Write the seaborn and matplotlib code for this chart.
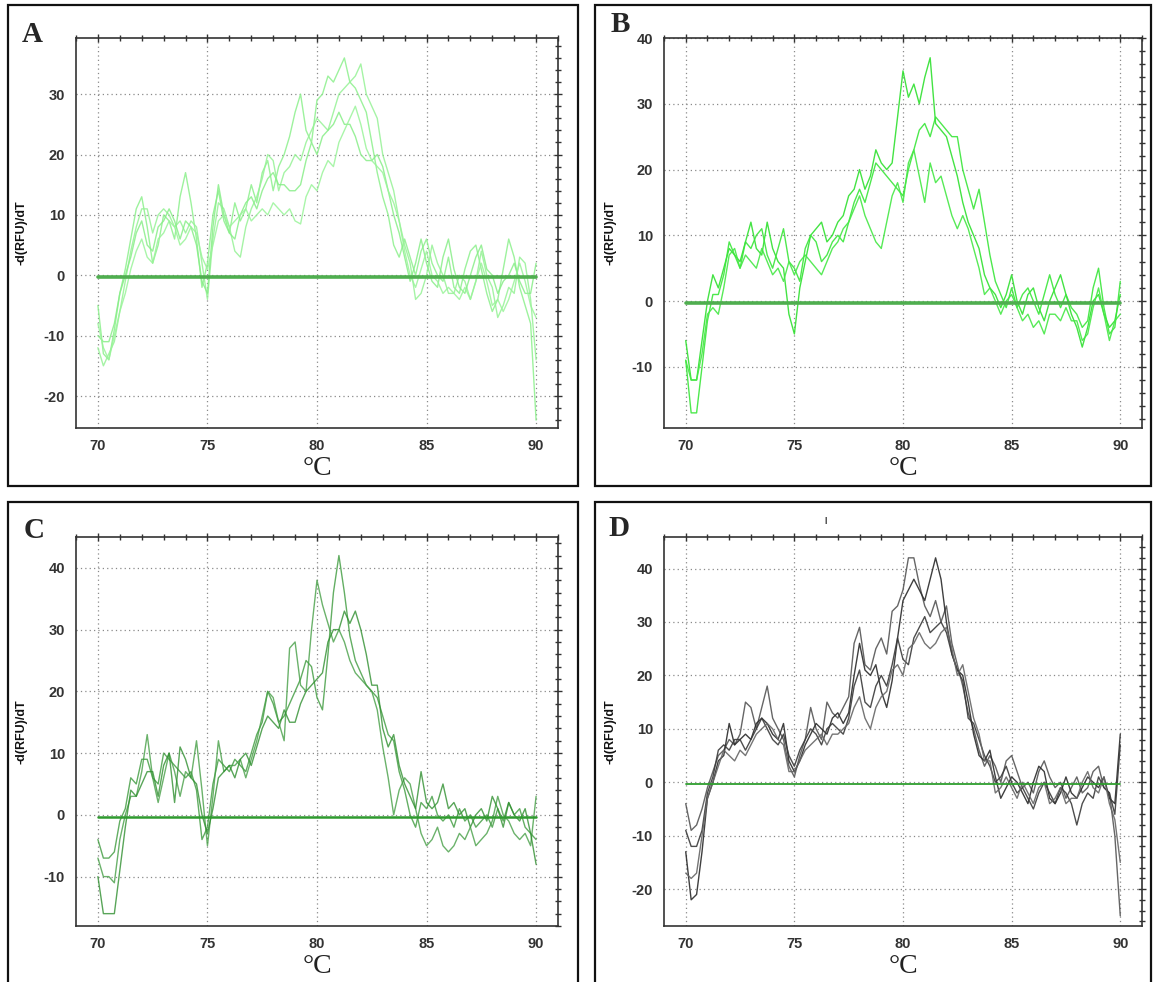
import numpy as np
import pandas as pd
import matplotlib
matplotlib.use("Agg")
import matplotlib.pyplot as plt
import seaborn as sns
from matplotlib.ticker import MultipleLocator
from matplotlib.patches import Rectangle

# temperature sampling grid (°C), 0.25 °C steps from 70 to 90
temps = list(np.linspace(70, 90, 81))
threshold_x = [70, 90]
threshold_y = [-0.3, -0.3]

# ---- Panel A (4 curves) ----
A1 = [-5,-13,-14,-9,-3,1,6,11,13,
      8,2,5,10,9,6,13,17,12,
      6,-2,2,10,14,9,7,12,9,
      11,15,12,17,19,14,18,20,23,
      27,30,24,22,29,30,33,32,34,
      36,32,31,29,27,22,17,13,10,
      5,3,6,3,0,4,6,2,0,
      -1,3,-2,-3,1,4,5,1,-3,
      -6,-4,1,6,3,-2,-5,-8,-24]
A2 = [-12,-15,-13,-11,-6,-1,4,8,11,
      11,7,10,11,10,8,9,7,9,
      8,2,-4,6,12,11,8,4,3,
      8,11,13,16,20,19,14,17,18,
      20,19,22,24,26,25,24,27,30,
      31,32,33,35,30,28,26,20,17,
      14,9,5,2,-4,-3,0,5,2,
      0,-3,-3,0,-1,-4,-1,4,0,
      -2,-7,-5,-2,-3,3,2,-4,-14]
A3 = [-10,-11,-11,-8,-3,0,3,7,9,
      5,4,8,9,11,9,6,9,8,
      5,-1,-3,8,15,10,7,6,10,
      12,13,11,14,16,17,15,15,14,
      14,15,19,22,20,23,24,25,27,
      25,25,23,20,19,19,20,18,14,
      10,7,3,-1,2,6,2,-1,-2,
      3,6,1,-2,-3,0,3,5,1,
      0,-3,-1,0,2,-1,-3,-3,2]
A4 = [-8,-12,-14,-10,-6,-3,1,4,6,
      3,2,6,7,9,8,5,6,8,
      7,3,1,5,9,10,8,9,10,
      11,9,10,11,10,12,11,10,11,
      9,8.5,13,15,14,17,19,18,22,
      24,26,28,25,21,19,18,17,14,
      12,9,4,0,-2,1,4,0,-1,
      -3,-2,-3,-4,-2,-4,-1,2,-1,
      -5,-4,-6,-4,-1,2,-1,-5,-7]

# ---- Panel B (3 curves) ----
B1 = [-6,-12,-12,-6,0,4,2,5,8,
      7,6,9,12,8,7,12,8,6,
      5,-2,-5,2,6,10,11,12,9,
      10,12,13,16,17,20,17,19,23,
      21,20,21,28,35,31,33,30,34,
      37,27,26,25,22,19,15,12,10,
      8,4,2,1,-1,1,4,0,-2,
      1,2,-1,-3,0,2,4,1,-2,
      -4,-7,-4,0,1,-2,-4,-3,1]
B2 = [-9,-17,-17,-10,-3,1,1,4,9,
      7,5,9,8,10,11,7,5,8,
      11,6,5,3,8,10,9,6,7,
      9,10,9,12,15,17,15,18,21,
      20,19,18,17,16,20,23,26,27,
      25,28,27,26,25,25,20,17,14,
      17,12,7,3,1,-1,2,-1,1,
      2,0,-2,1,4,1,-1,1,-1,
      -2,-4,-3,2,5,-1,-5,-4,3]
B3 = [-9,-12,-12,-8,-2,-1,-2,2,7,
      8,5,7,6,5,8,6,4,5,
      3,6,4,6,7,6,5,4,6,
      8,9,11,12,14,16,13,11,9,
      8,12,16,18,15,21,23,19,15,
      21,18,19,16,13,11,13,11,8,
      5,1,2,0,-2,0,1,-1,-3,
      -2,-4,-3,-5,-2,-2,-3,-1,-3,
      -3,-6,-5,-1,2,-2,-6,-3,-2]

# ---- Panel C (3 curves) ----
C1 = [-4,-7,-7,-6,-1,1,6,5,9,
      9,6,5,10,9,8,7,6,7,
      4,-4,-2,5,9,8,7,9,8,
      7,10,13,15,20,18,15,16,18,
      20,22,25,24,19,17,26,36,42,
      36,29,25,23,21,20,19,16,13,
      12,7,4,0,-2,2,1,3,0,
      -1,0,-2,1,-1,0,-2,-1,0,
      -2,1,-1,2,0,1,-2,-3,-4]
C2 = [-7,-10,-10,-11,-4,0,3,3,7,
      13,6,2,6,10,7,3,7,6,
      12,4,-5,3,12,7,8,8,9,
      6,9,12,16,20,19,15,12,27,
      28,21,20,30,38,34,31,28,30,
      28,25,23,22,21,20,17,11,6,
      0,4,6,5,1,-3,-5,-4,-2,
      -5,-6,-5,-3,-4,-2,-5,-4,-3,
      -1,3,0,-1,-3,-4,-3,-5,3]
C3 = [-10,-16,-16,-16,-9,-2,4,3,5,
      7,7,3,8,10,2,11,9,6,
      5,0,-3,1,6,7,8,6,9,
      10,8,11,14,16,15,14,17,15,
      15,18,20,21,22,23,28,30,30,
      33,31,33,30,26,21,21,14,11,
      13,8,5,3,1,7,2,1,2,
      5,1,2,0,1,-2,0,1,-1,
      3,1,-2,2,0,-1,1,-3,-8]

# ---- Panel D (4 curves) ----
D1 = [-4,-9,-8,-5,-1,2,5,6,8,
      7,9,15,14,10,14,18,12,10,
      8,3,1,5,8,14,10,8,15,
      13,12,14,16,26,29,22,21,25,
      27,24,32,33,36,42,42,37,33,
      31,34,30,33,26,22,18,13,10,
      6,3,5,3,0,4,5,2,-1,
      0,-2,2,4,1,-1,0,-3,-1,
      1,-2,-1,2,3,-1,-2,-10,-25]
D2 = [-13,-22,-21,-13,-3,0,4,5,11,
      7,8,9,8,11,12,11,9,8,
      11,4,2,4,7,9,11,10,9,
      12,13,11,13,20,26,21,20,22,
      17,14,19,27,34,36,38,36,34,
      38,42,38,30,24,21,20,15,9,
      5,4,6,1,-3,-1,1,0,-2,
      -4,0,3,2,-3,-4,-2,1,-2,
      -3,-1,1,0,-1,1,-3,-4,9]
D3 = [-9,-12,-12,-9,-2,1,6,7,6,
      8,8,6,8,10,12,10,8,7,
      9,5,3,6,8,10,9,7,10,
      11,10,9,12,18,21,15,14,18,
      20,18,22,27,23,22,27,29,31,
      28,29,30,28,24,21,19,12,11,
      8,5,3,0,1,3,0,-2,-1,
      -3,-5,-2,0,-2,-4,-1,-2,-4,
      -8,-4,-2,-3,1,-1,-2,-6,7]
D4 = [-17,-18,-17,-10,-3,0,3,6,5,
      4,6,5,7,9,10,11,10,8,
      7,2,2,4,6,7,8,9,7,
      9,9,10,11,14,16,12,10,14,
      16,17,21,22,20,25,26,28,26,
      25,26,28,29,25,20,22,17,12,
      9,4,4,-2,-1,1,-1,-3,0,
      -2,-4,-1,0,-4,-3,-1,-4,-3,
      -3,0,2,-1,-2,1,-4,-7,-15]

y_ticks_A = [-20, -10, 0, 10, 20, 30]
y_ticks_B = [-10, 0, 10, 20, 30, 40]
y_ticks_C = [-10, 0, 10, 20, 30, 40]
y_ticks_D = [-20, -10, 0, 10, 20, 30, 40]
x_ticks = [70, 75, 80, 85, 90]

sns.set_style("white")
plt.rcParams["font.family"] = ["Liberation Sans", "DejaVu Sans"]
plt.rcParams["axes.unicode_minus"] = False

W, H = 1157, 982
fig = plt.figure(figsize=(W / 100, H / 100), dpi=100)


def px_rect(x0, y0, x1, y1):
    return [x0 / W, 1 - y1 / H, (x1 - x0) / W, (y1 - y0) / H]


panels = [
    dict(name="A", rect=px_rect(76, 38, 558, 428), curves=[A1, A2, A3, A4],
         colors=["#8cf08c", "#96f296", "#88ee88", "#9af49a"], lw=1.0, alpha=0.85,
         thr_color="#4fae4f", thr_lw=2.6, ylim=(-25.3, 39.3), yt=y_ticks_A,
         letter_xy=(32, 34), letter_fs=21, border=(8, 5, 578, 486)),
    dict(name="B", rect=px_rect(664, 38, 1142, 428), curves=[B1, B2, B3],
         colors=["#2fe02f", "#3ae63a", "#45e845"], lw=1.0, alpha=0.9,
         thr_color="#4fae4f", thr_lw=2.6, ylim=(-19.3, 40), yt=y_ticks_B,
         letter_xy=(620, 25), letter_fs=21, border=(595, 5, 1151, 486)),
    dict(name="C", rect=px_rect(76, 537, 558, 926), curves=[C1, C2, C3],
         colors=["#3c9a3c", "#469f46", "#2f8f2f"], lw=1.0, alpha=0.8,
         thr_color="#2f9a2f", thr_lw=1.8, ylim=(-18, 45), yt=y_ticks_C,
         letter_xy=(34, 531), letter_fs=21, border=(8, 502, 578, 995)),
    dict(name="D", rect=px_rect(664, 537, 1142, 926), curves=[D1, D2, D3, D4],
         colors=["#555555", "#2a2a2a", "#3a3a3a", "#666666"], lw=1.0, alpha=0.9,
         thr_color="#2e9e2e", thr_lw=1.3, ylim=(-26.9, 45.9), yt=y_ticks_D,
         letter_xy=(619, 529), letter_fs=21, border=(595, 502, 1151, 995)),
]

for p in panels:
    ax = fig.add_axes(p["rect"])
    rows = []
    for k, c in enumerate(p["curves"]):
        for t, v in zip(temps, c):
            rows.append((t, v, f"{p['name']}{k+1}"))
    df = pd.DataFrame(rows, columns=["T", "val", "curve"])
    ax.grid(True, which="major", linestyle=(0, (1, 2.5)), color="#8a8a8a", linewidth=0.9)
    sns.lineplot(data=df, x="T", y="val", hue="curve", palette=p["colors"],
                 estimator=None, sort=False, legend=False, ax=ax,
                 linewidth=p["lw"], alpha=p["alpha"])
    sns.lineplot(x=threshold_x, y=threshold_y, ax=ax, color=p["thr_color"],
                 linewidth=p["thr_lw"], legend=False)
    ax.set_xlim(69, 91)
    ax.set_ylim(*p["ylim"])
    ax.set_xticks(x_ticks)
    ax.set_yticks(p["yt"])
    ax.xaxis.set_minor_locator(MultipleLocator(1))
    ax.yaxis.set_minor_locator(MultipleLocator(2))
    ax.tick_params(which="both", direction="inout", top=True, right=True,
                   color="#333333", width=1.0)
    ax.tick_params(which="major", length=6, labelsize=10.5, labelcolor="#333333", pad=5)
    ax.tick_params(which="minor", length=4)
    for lab in ax.get_xticklabels() + ax.get_yticklabels():
        lab.set_fontweight("bold")
    for s in ax.spines.values():
        s.set_color("#333333")
        s.set_linewidth(1.2)
    ax.set_axisbelow(True)
    ax.set_ylabel("-d(RFU)/dT", fontsize=9, fontweight="bold", color="#111111")
    ax.yaxis.set_label_coords(-0.1, 0.5)
    ax.set_xlabel("°C", fontsize=20, family=["Liberation Serif", "DejaVu Serif"], color="#222222")
    ax.xaxis.label.set_va("center")
    ax.xaxis.set_label_coords(0.5, -0.105)
    lx, ly = p["letter_xy"]
    fig.text(lx / W, 1 - ly / H, p["name"], ha="center", va="center",
             fontsize=p["letter_fs"], fontweight="bold",
             family=["Liberation Serif", "DejaVu Serif"])
    bx0, by0, bx1, by1 = p["border"]
    fig.add_artist(Rectangle((bx0 / W, 1 - by1 / H), (bx1 - bx0) / W, (by1 - by0) / H,
                             transform=fig.transFigure, fill=False,
                             edgecolor="#111111", linewidth=1.6, clip_on=False))

fig.text(826 / W, 1 - 521 / H, "|", ha="center", va="center", fontsize=6,
         fontweight="bold", color="#222222")

fig.savefig("out.png", dpi=100, facecolor="white")
